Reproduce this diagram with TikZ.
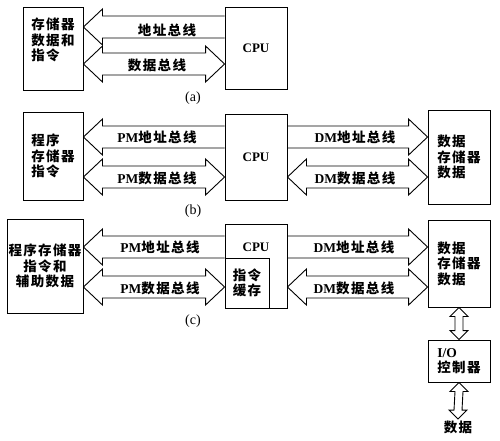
\documentclass[tikz,border=0pt]{standalone}
\usepackage{fontspec}
\newfontfamily\cjk[LetterSpace=10]{Noto Sans CJK SC}
\newfontfamily\lat{Liberation Serif}
\usetikzlibrary{calc}

% fat bus arrows: #1 tip node, #2 tail node, #3 height of the bus
\newcommand\busleft[3]{\draw[bus] ($(#2.west|-0,#3)+(0,-11)$) -- ($(#1.east|-0,#3)+(19,-11)$) -- ++(0,-7) -- (#1.east|-0,#3) -- ++(19,18) -- ++(0,-7) -- ($(#2.west|-0,#3)+(0,11)$);}
\newcommand\busright[3]{\draw[bus] ($(#2.east|-0,#3)+(0,-11)$) -- ($(#1.west|-0,#3)+(-19,-11)$) -- ++(0,-7) -- (#1.west|-0,#3) -- ++(-19,18) -- ++(0,-7) -- ($(#2.east|-0,#3)+(0,11)$);}
\newcommand\busboth[3]{\draw[bus] ($(#1.east|-0,#3)+(19,-11)$) -- ++(0,-7) -- (#1.east|-0,#3) -- ++(19,18) -- ++(0,-7) -- ($(#2.west|-0,#3)+(-19,11)$) -- ++(0,7) -- (#2.west|-0,#3) -- ++(-19,-18) -- ++(0,7) -- cycle;}
\newcommand\busvert[2]{\draw[bus] ($(#1.south)+(-4,9)$) -- ++(-5,0) -- (#1.south) -- ++(9,9) -- ++(-5,0) -- ($(#2.north)+(4,-9)$) -- ++(5,0) -- (#2.north) -- ++(-9,-9) -- ++(5,0) -- cycle;}

\begin{document}
\begin{tikzpicture}[x=1pt, y=-1pt, line width=0.9pt,
    box/.style={draw, inner sep=0pt, align=left, font=\cjk\bfseries\fontsize{13.5}{15.5}\selectfont},
    cpu/.style={font=\lat\bfseries\fontsize{13}{15}\selectfont},
    bus/.style={draw, line width=0.9pt, line join=miter},
    buslabel/.style={font=\cjk\bfseries\fontsize{13.5}{15.5}\selectfont},
    sub/.style={font=\lat\fontsize{14}{16}\selectfont}]
    \useasboundingbox (0,0) rectangle (500,440);
    % (a)
    \node[box, text depth=18pt, minimum width=60pt, minimum height=83pt] (memA) at (53,48.5) {存储器\\数据和\\指令};
    \node[box, cpu, minimum width=62pt, minimum height=82pt] (cpuA) at (256,48) {CPU};
    \busleft{memA}{cpuA}{27}
    \busboth{memA}{cpuA}{64}
    \node[buslabel] (addrA) at (167,30) {地址总线};
    \node[buslabel] (dataA) at (157,65) {数据总线};
    \node[sub] (capA) at (193,98) {(a)};
    % (b)
    \node[box, minimum width=60pt, minimum height=88pt] (memB) at (53,156) {程序\\存储器\\指令};
    \node[box, cpu, minimum width=62pt, minimum height=86pt] (cpuB) at (256,157) {CPU};
    \node[box, minimum width=62pt, minimum height=94pt] (dmB) at (459,157) {数据\\存储器\\数据};
    \busleft{memB}{cpuB}{137}
    \busboth{memB}{cpuB}{177}
    \busright{dmB}{cpuB}{137}
    \busboth{cpuB}{dmB}{177}
    \node[buslabel] (pmaddrB) at (157,137) {{\lat PM}地址总线};
    \node[buslabel] (pmdataB) at (157,178) {{\lat PM}数据总线};
    \node[buslabel] (dmaddrB) at (355,137) {{\lat DM}地址总线};
    \node[buslabel] (dmdataB) at (355,178) {{\lat DM}数据总线};
    \node[sub] (capB) at (193,211) {(b)};
    % (c)
    \node[box, align=center, minimum width=76pt, minimum height=94pt] (memC) at (45,266) {程序存储器\\指令和\\辅助数据};
    \node[box, minimum width=62pt, minimum height=84pt] (cpuC) at (256,266) {};
    \node[cpu] (cpuCtxt) at (256,247) {CPU};
    \node[box, minimum width=44pt, minimum height=50pt] (cacheC) at (247,283) {指令\\缓存};
    \node[box, minimum width=62pt, minimum height=87pt] (dmC) at (459,263.5) {数据\\存储器\\数据};
    \busleft{memC}{cpuC}{247}
    \busboth{memC}{cacheC}{287}
    \busright{dmC}{cpuC}{247}
    \busboth{cpuC}{dmC}{287}
    \node[buslabel] (pmaddrC) at (160,247) {{\lat PM}地址总线};
    \node[buslabel] (pmdataC) at (160,288) {{\lat PM}数据总线};
    \node[buslabel] (dmaddrC) at (354,247) {{\lat DM}地址总线};
    \node[buslabel] (dmdataC) at (354,288) {{\lat DM}数据总线};
    \node[sub] (capC) at (193,321) {(c)};
    \node[box, minimum width=62pt, minimum height=42pt] (ioC) at (459,361) {{\lat I/O}\\控制器};
    \node[buslabel, inner sep=1pt] (outC) at (458,427) {数据};
    \busvert{dmC}{ioC}
    \busvert{ioC}{outC}
\end{tikzpicture}
\end{document}
